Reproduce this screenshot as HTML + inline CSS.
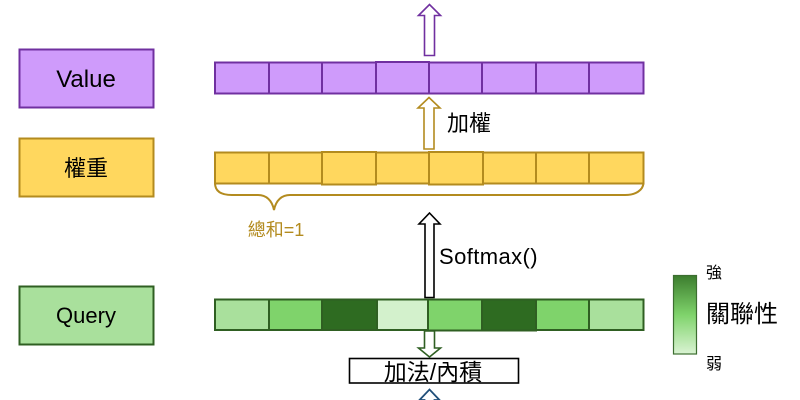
<!DOCTYPE html>
<html>
<head>
<meta charset="utf-8">
<style>
  html,body{margin:0;padding:0;background:#fff;}
  svg{display:block;}
  text{font-family:"Liberation Sans","Noto Sans CJK TC",sans-serif;}
</style>
</head>
<body>
<svg width="800" height="400" viewBox="0 0 800 400" xmlns="http://www.w3.org/2000/svg">
  <defs>
    <linearGradient id="lg" x1="0" y1="0" x2="0" y2="1">
      <stop offset="0" stop-color="#3c7d2e"/>
      <stop offset="0.5" stop-color="#7fd36b"/>
      <stop offset="1" stop-color="#daf3d3"/>
    </linearGradient>
  </defs>

  <!-- Left label boxes -->
  <rect x="19.5" y="49.5" width="134" height="58" fill="#cf9bfb" stroke="#7030a0" stroke-width="2"/>
  <text x="86" y="87" font-size="24" text-anchor="middle" fill="#000">Value</text>

  <rect x="19.5" y="138.5" width="134" height="58" fill="#ffd75e" stroke="#b38b1f" stroke-width="2"/>
  <text x="86" y="176" font-size="22" text-anchor="middle" fill="#000">權重</text>

  <rect x="19.5" y="286.5" width="134" height="58" fill="#a9e09c" stroke="#2f5f22" stroke-width="2"/>
  <text x="86" y="323" font-size="22" text-anchor="middle" fill="#000">Query</text>

  <!-- Value bar -->
  <g fill="#cf9bfb" stroke="#7030a0" stroke-width="2">
    <rect x="215" y="62.5" width="54" height="31"/>
    <rect x="269" y="62.5" width="53" height="31"/>
    <rect x="322" y="62.5" width="54" height="31"/>
    <rect x="376" y="62" width="53" height="31.5"/>
    <rect x="429" y="62.5" width="53" height="31"/>
    <rect x="482" y="62.5" width="54" height="31"/>
    <rect x="536" y="62.5" width="53" height="31"/>
    <rect x="589" y="62.5" width="54.5" height="31"/>
  </g>

  <!-- Weight bar -->
  <g fill="#ffd75e" stroke="#b38b1f" stroke-width="2">
    <rect x="215" y="152.5" width="54" height="31"/>
    <rect x="269" y="152.5" width="53" height="31"/>
    <rect x="482" y="152.5" width="54" height="31"/>
    <rect x="536" y="152.5" width="53" height="31"/>
    <rect x="589" y="152.5" width="54.5" height="31"/>
    <rect x="322" y="152" width="54" height="32.5"/>
    <rect x="376" y="152.5" width="53" height="31"/>
    <rect x="429" y="152" width="54" height="32.5"/>
  </g>

  <!-- Brace -->
  <path d="M215 183 C215 192 222 195 232 195 L258 195 C266 195 272 200 274 210 C276 200 282 195 290 195 L625 195 C636 195 643 190 643.5 183"
        fill="none" stroke="#b38b1f" stroke-width="2"/>
  <text x="276" y="236" font-size="18" text-anchor="middle" fill="#b38b1f">總和=1</text>

  <!-- Query bar -->
  <g stroke="#2f5f22" stroke-width="2">
    <rect x="215" y="299.5" width="54" height="30.5" fill="#a9e09c"/>
    <rect x="269" y="299.5" width="53" height="30.5" fill="#7fd36b"/>
    <rect x="322" y="299.5" width="55" height="30.5" fill="#2e6b21"/>
    <rect x="377" y="299.5" width="51" height="30.5" fill="#d3f1cc"/>
    <rect x="536" y="299.5" width="53" height="30.5" fill="#7fd36b"/>
    <rect x="589" y="299.5" width="54.5" height="30.5" fill="#a9e09c"/>
    <rect x="428" y="299.5" width="54" height="31" fill="#7fd36b"/>
    <rect x="482" y="299.5" width="54" height="31" fill="#2e6b21"/>
  </g>

  <!-- Top purple arrow -->
  <path d="M424.5 55.5 L424.5 15.5 L418.5 15.5 L429.5 4.5 L440.5 15.5 L434.5 15.5 L434.5 55.5 Z"
        fill="#fff" stroke="#7030a0" stroke-width="1.6"/>

  <!-- Yellow arrow -->
  <path d="M424 149 L424 108 L418 108 L429 97.5 L440 108 L434 108 L434 149 Z"
        fill="#fff" stroke="#b38b1f" stroke-width="1.6"/>
  <text x="447" y="131" font-size="22" fill="#000">加權</text>

  <!-- Softmax arrow -->
  <path d="M425 297.5 L425 224 L419 224 L429.5 213 L440 224 L434 224 L434 297.5 Z"
        fill="#fff" stroke="#000" stroke-width="1.6"/>
  <text x="439" y="264" font-size="22" letter-spacing="0.4" fill="#000">Softmax()</text>

  <!-- Green down arrow -->
  <path d="M424.5 331 L424.5 348 L418.5 348 L429.5 357 L440.5 348 L434.5 348 L434.5 331 Z"
        fill="#fff" stroke="#2f5f22" stroke-width="1.6"/>

  <!-- Additive / dot product box -->
  <rect x="349.5" y="358.5" width="169" height="24.5" fill="#fff" stroke="#000" stroke-width="1.6"/>
  <text x="433" y="380" font-size="23" text-anchor="middle" fill="#000">加法/內積</text>

  <!-- Blue arrow (partially visible) -->
  <path d="M424.5 402 L424.5 400 L419.5 400 L429.5 389.5 L439.5 400 L434.5 400 L434.5 402"
        fill="#fff" stroke="#1f4e79" stroke-width="1.8"/>

  <!-- Legend -->
  <rect x="673.5" y="275.5" width="23" height="78.5" fill="url(#lg)" stroke="#3c6e30" stroke-width="1.2"/>
  <text x="706" y="278" font-size="16" fill="#000">強</text>
  <text x="706" y="322" font-size="24" fill="#000">關聯性</text>
  <text x="706" y="369" font-size="16" fill="#000">弱</text>
</svg>
</body>
</html>
